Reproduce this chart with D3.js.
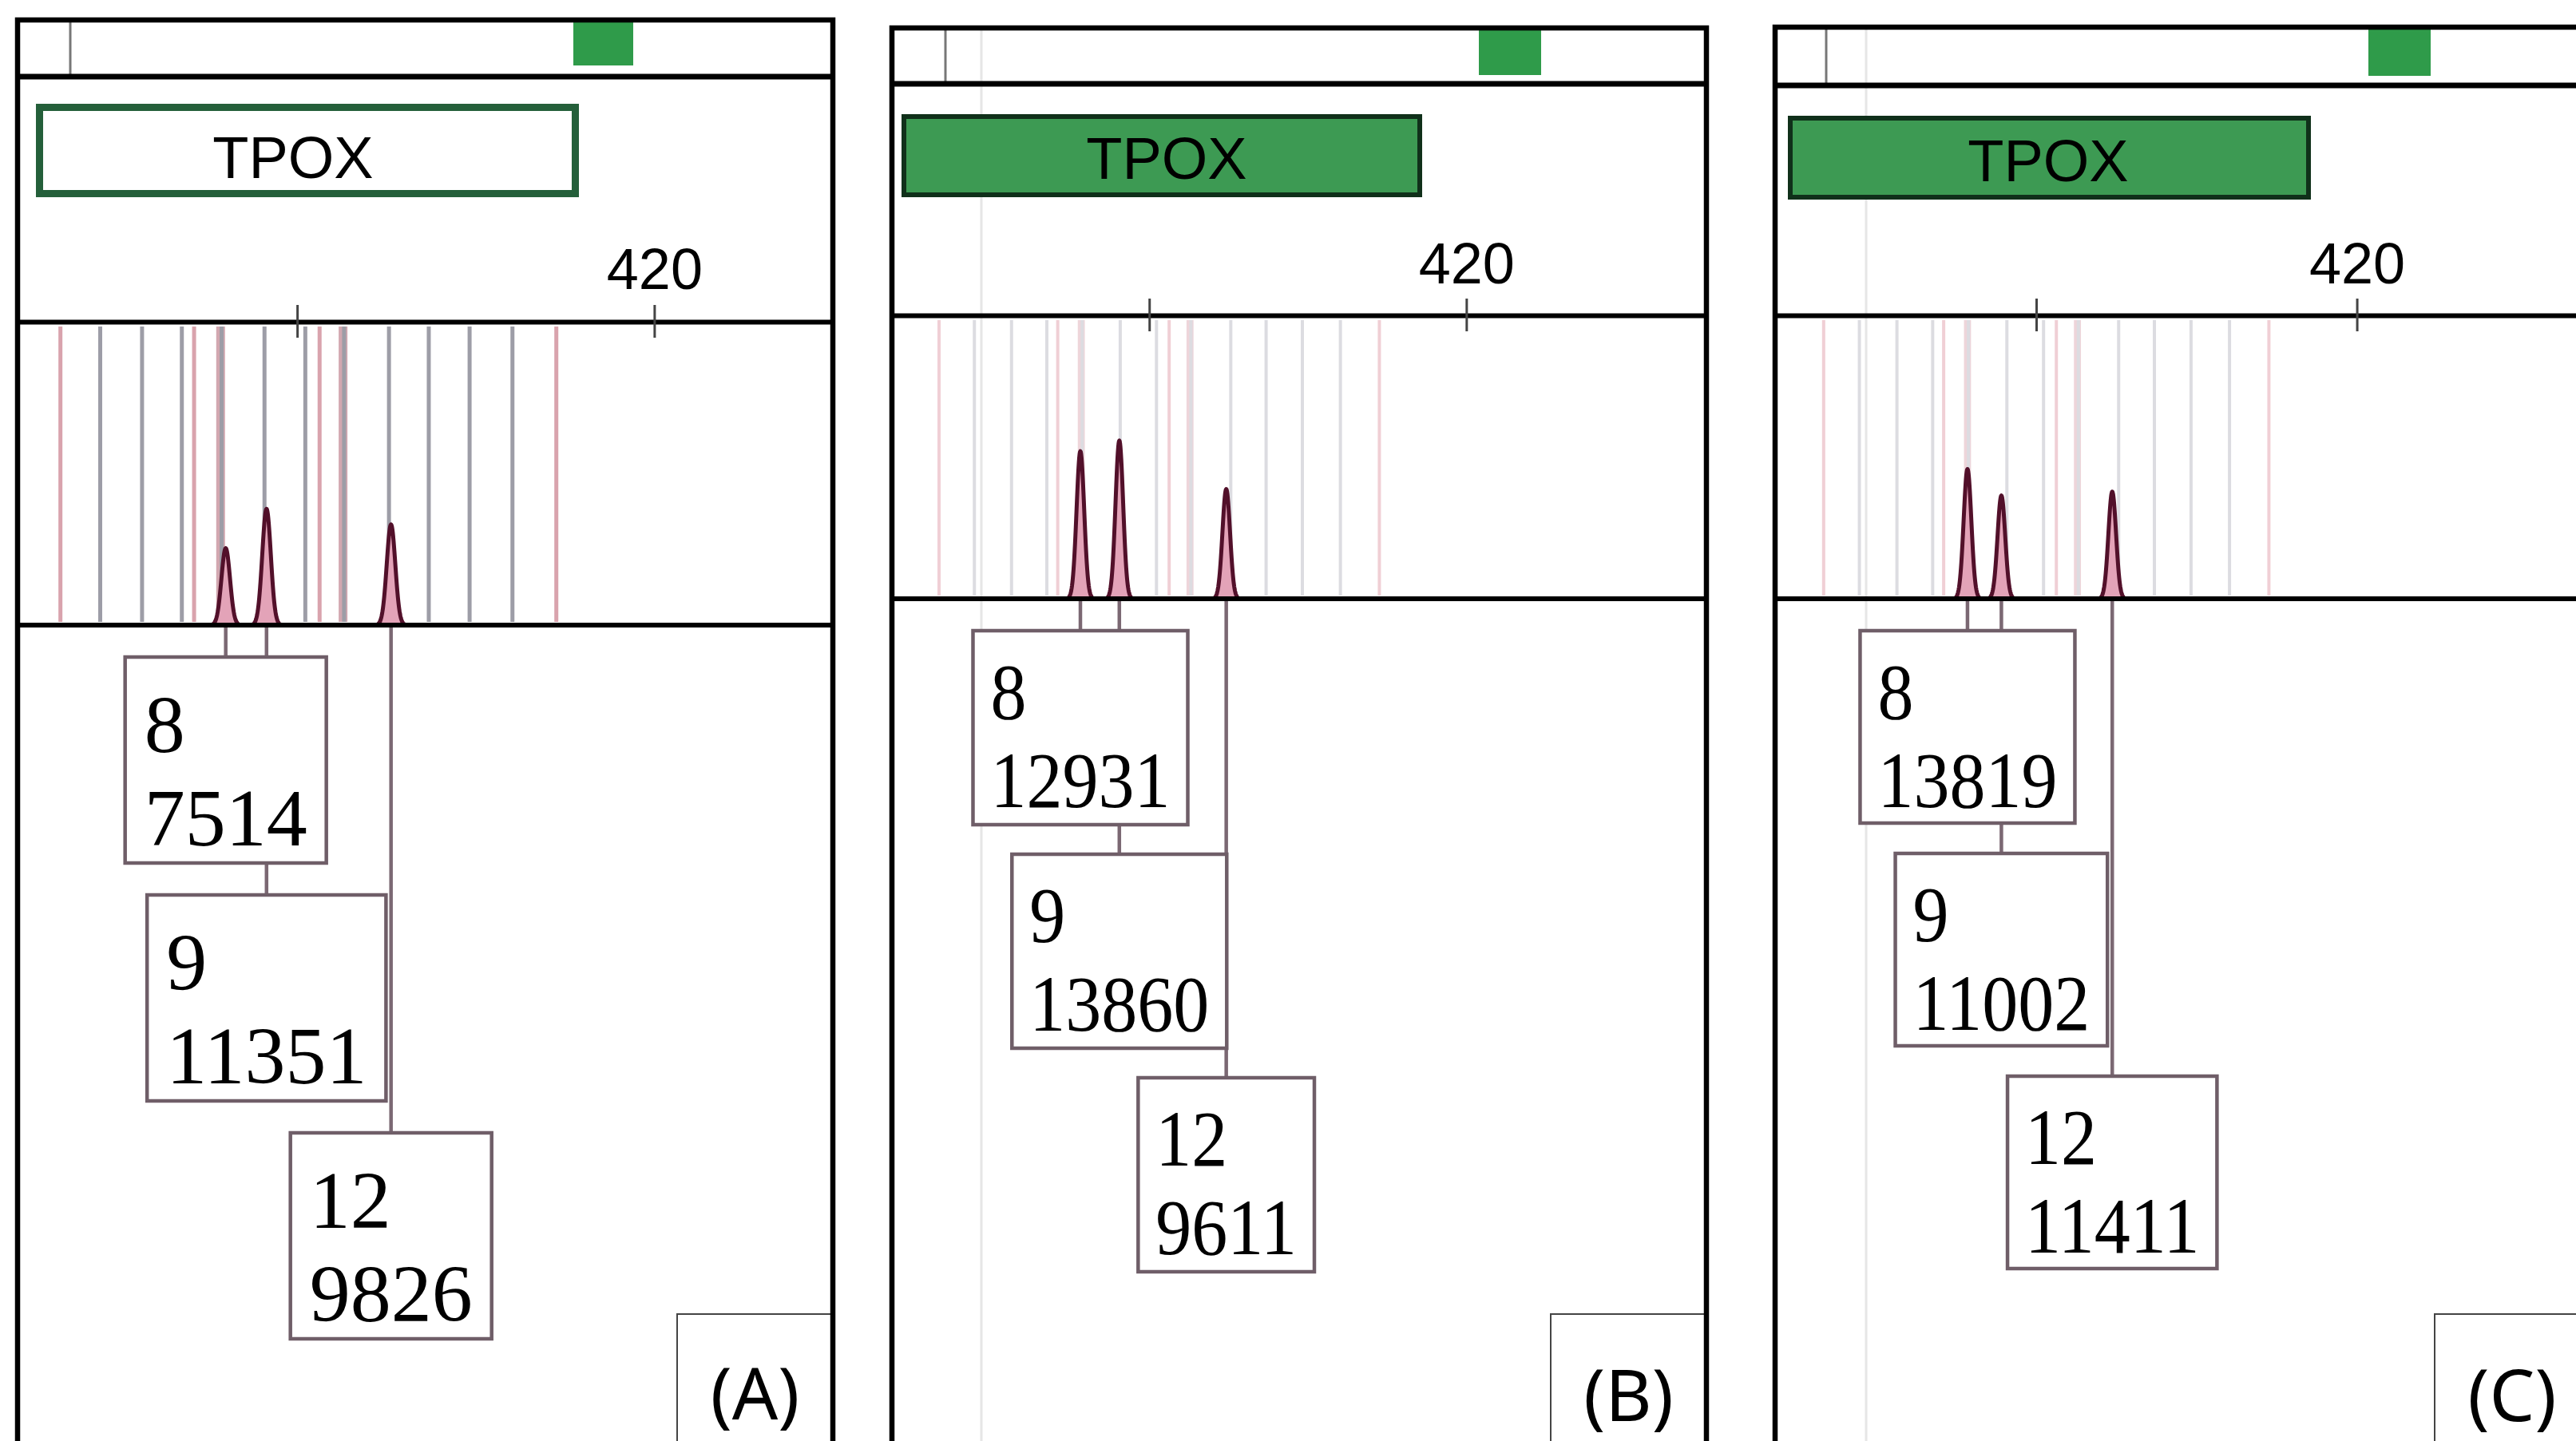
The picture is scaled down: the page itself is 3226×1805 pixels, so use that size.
<!DOCTYPE html>
<html lang="en">
<head>
<meta charset="UTF-8">
<title>TPOX electropherograms</title>
<script src="https://d3js.org/d3.v7.min.js"></script>
<style>
  body { margin: 0; background: #fff; }
  svg { display: block; }
</style>
</head>
<body>
<div id="chart"></div>
<script>
// ---- data ----
const marker = "TPOX";
const panelNames = ["(A)", "(B)", "(C)"];
const alleles = ["8", "9", "12"];
const heightsA = [7514, 11351, 9826];
const heightsB = [12931, 13860, 9611];
const heightsC = [13819, 11002, 11411];
const sizesA = [378.0, 382.0, 394.2];
const sizesB = [377.4, 381.7, 393.5];
const sizesC = [377.5, 381.2, 393.3];
const sizeTicks = [385, 420];
const sizeTickLabels = ["", "420"];
const ladderBins = [365.7, 369.8, 373.7, 377.6, 381.8, 385.8, 389.6, 394.0, 397.9, 401.9, 406.1];
const virtualBins = [361.8, 374.9, 387.2, 410.4];
const wideBins = [377.5, 389.5];

const W = 3226, H = 1805;

// ---- layout of each scanned panel ----
const layout = [
  { left: 22, width: 1021, top: 25, stripY: 96, stripTick: 66, green: [696, 771], greenY: [28, 82],
    tpox: [23, 703, 130, 247], tpoxFill: "#ffffff", tpoxStroke: "#245f3a", tpoxSW: 9,
    tpoxTextX: 345, tpoxTextY: 223, axisY: 403, labelY: 362, baseY: 783,
    domain: [357.6, 437.5], yMax: 29620,
    boxTop: 823, boxH: 258, boxGap: 40, font: 102, squeeze: 1, pad: 24, line1: 119, line2: 236,
    gray: "#9d9da7", pink: "#d9a3ad", wide: "#d2a7b0", binW: 5, faintX: null,
    tagX: 826, tagTop: 1646, tagY: 1778 },
  { left: 1117, width: 1020, top: 35, stripY: 105, stripTick: 67, green: [735, 813], greenY: [38, 94],
    tpox: [12, 664, 143, 247], tpoxFill: "#3d9a53", tpoxStroke: "#10301a", tpoxSW: 6,
    tpoxTextX: 344, tpoxTextY: 224, axisY: 395, labelY: 355, baseY: 750,
    domain: [356.6, 446.5], yMax: 24830,
    boxTop: 790, boxH: 243, boxGap: 37, font: 100, squeeze: 0.9, pad: 22, line1: 110, line2: 221,
    gray: "#dcdce1", pink: "#f0cfd5", wide: "#eed5da", binW: 4, faintX: 112,
    tagX: 825, tagTop: 1646, tagY: 1780 },
  { left: 2223, width: 1020, top: 34, stripY: 107, stripTick: 64, green: [743, 821], greenY: [35, 95],
    tpox: [16, 671, 145, 250], tpoxFill: "#3d9a53", tpoxStroke: "#10301a", tpoxSW: 6,
    tpoxTextX: 342, tpoxTextY: 227, axisY: 395, labelY: 355, baseY: 750,
    domain: [356.5, 445.4], yMax: 30190,
    boxTop: 790, boxH: 241, boxGap: 38, font: 100, squeeze: 0.9, pad: 22, line1: 110, line2: 221,
    gray: "#dcdce1", pink: "#f0cfd5", wide: "#eed5da", binW: 4, faintX: 114,
    tagX: 826, tagTop: 1646, tagY: 1780 }
];

const svg = d3.select("#chart").append("svg").attr("width", W).attr("height", H)
  .style("background", "#fff");

const sans = "'Liberation Sans', Arial, sans-serif";
const serif = "'Liberation Serif', 'Times New Roman', serif";

function drawPanel(L, name, sizes, heights) {
  const right = L.left + L.width;
  const g = svg.append("g");
  const x = d3.scaleLinear().domain(L.domain).range([L.left, right]);
  const y = d3.scaleLinear().domain([0, L.yMax]).range([L.baseY, L.axisY]);

  // faint scanner line running the whole height
  if (L.faintX) {
    g.append("line").attr("x1", L.left + L.faintX).attr("x2", L.left + L.faintX)
      .attr("y1", L.top).attr("y2", H).attr("stroke", "#e6e6e6").attr("stroke-width", 3);
  }

  // overview strip
  g.append("line").attr("x1", L.left + L.stripTick).attr("x2", L.left + L.stripTick)
    .attr("y1", L.top).attr("y2", L.stripY).attr("stroke", "#777").attr("stroke-width", 3);
  g.append("rect").attr("x", L.left + L.green[0]).attr("y", L.greenY[0])
    .attr("width", L.green[1] - L.green[0]).attr("height", L.greenY[1] - L.greenY[0])
    .attr("fill", "#2f9b4a");
  g.append("line").attr("x1", L.left).attr("x2", right).attr("y1", L.stripY).attr("y2", L.stripY)
    .attr("stroke", "#000").attr("stroke-width", 7);

  // marker label box
  const sw = L.tpoxSW;
  g.append("rect").attr("x", L.left + L.tpox[0] + sw / 2).attr("y", L.tpox[2] + sw / 2)
    .attr("width", L.tpox[1] - L.tpox[0] - sw).attr("height", L.tpox[3] - L.tpox[2] - sw)
    .attr("fill", L.tpoxFill).attr("stroke", L.tpoxStroke).attr("stroke-width", sw);
  g.append("text").attr("x", L.left + L.tpoxTextX).attr("y", L.tpoxTextY)
    .attr("text-anchor", "middle").attr("font-family", sans).attr("font-size", 74)
    .attr("fill", "#000").text(marker);

  // bins
  const binY0 = L.axisY + 6, binY1 = L.baseY - 4;
  g.selectAll(".wide").data(wideBins).join("line").attr("class", "wide")
    .attr("x1", d => x(d)).attr("x2", d => x(d)).attr("y1", binY0).attr("y2", binY1)
    .attr("stroke", L.wide).attr("stroke-width", L.binW * 2.2);
  g.selectAll(".vbin").data(virtualBins).join("line").attr("class", "vbin")
    .attr("x1", d => x(d)).attr("x2", d => x(d)).attr("y1", binY0).attr("y2", binY1)
    .attr("stroke", L.pink).attr("stroke-width", L.binW);
  g.selectAll(".lbin").data(ladderBins).join("line").attr("class", "lbin")
    .attr("x1", d => x(d)).attr("x2", d => x(d)).attr("y1", binY0).attr("y2", binY1)
    .attr("stroke", L.gray).attr("stroke-width", L.binW);

  // size axis
  const axis = d3.axisTop(x).tickValues(sizeTicks).tickFormat((d, k) => sizeTickLabels[k])
    .tickSize(21).tickSizeOuter(0).tickPadding(L.axisY - L.labelY - 21);
  const ax = g.append("g").attr("transform", `translate(0,${L.axisY})`).call(axis);
  ax.select(".domain").attr("stroke", "#000").attr("stroke-width", 6);
  ax.selectAll(".tick line").attr("y1", 20).attr("y2", -21).attr("stroke", "#444").attr("stroke-width", 3);
  ax.selectAll(".tick text").attr("font-family", sans).attr("font-size", 72).attr("fill", "#000");

  // peaks
  const peaks = alleles.map((a, k) => ({ allele: a, size: sizes[k], height: heights[k] }));
  const sigma = 0.42;
  const shape = p => d3.range(-4, 4.01, 0.1).map(t => ({ s: p.size + t * sigma, v: p.height * Math.exp(-t * t / 2) }));
  const area = d3.area().x(d => x(d.s)).y0(L.baseY).y1(d => y(d.v));
  const line = d3.line().x(d => x(d.s)).y(d => y(d.v));
  g.selectAll(".pfill").data(peaks).join("path").attr("d", p => area(shape(p)))
    .attr("fill", "#e3a3b8");
  g.selectAll(".pline").data(peaks).join("path").attr("d", p => line(shape(p)))
    .attr("fill", "none").attr("stroke", "#52102a").attr("stroke-width", 5).attr("stroke-linejoin", "round");

  // baseline
  g.append("line").attr("x1", L.left).attr("x2", right).attr("y1", L.baseY).attr("y2", L.baseY)
    .attr("stroke", "#000").attr("stroke-width", 6);

  // connectors and allele call boxes
  const boxY = k => L.boxTop + k * (L.boxH + L.boxGap);
  g.selectAll(".conn").data(peaks).join("line")
    .attr("x1", p => x(p.size)).attr("x2", p => x(p.size))
    .attr("y1", L.baseY + 3).attr("y2", (p, k) => boxY(k))
    .attr("stroke", "#7b6873").attr("stroke-width", 4.5);

  peaks.forEach((p, k) => {
    const bx = x(p.size), by = boxY(k);
    const bg = g.append("g");
    const r = bg.append("rect").attr("y", by).attr("height", L.boxH)
      .attr("fill", "#fff").attr("stroke", "#6f5e68").attr("stroke-width", 4.5);
    const t1 = bg.append("text").attr("data-dy", L.line1).text(p.allele);
    const t2 = bg.append("text").attr("data-dy", L.line2).text(String(p.height));
    bg.selectAll("text").attr("font-family", serif).attr("font-size", L.font).attr("fill", "#000");
    const tw = L.squeeze * Math.max(t1.node().getComputedTextLength(), t2.node().getComputedTextLength());
    const bw = tw + 2 * L.pad;
    r.attr("x", bx - bw / 2).attr("width", bw);
    bg.selectAll("text").attr("transform", function () {
      return `translate(${bx - bw / 2 + L.pad},${by + +this.getAttribute("data-dy")}) scale(${L.squeeze},1)`;
    });
  });

  // panel tag
  g.append("rect").attr("x", L.left + L.tagX).attr("y", L.tagTop)
    .attr("width", right - L.left - L.tagX).attr("height", H - L.tagTop + 20)
    .attr("fill", "#fff").attr("stroke", "#444").attr("stroke-width", 2);
  g.append("text").attr("x", L.left + L.tagX + (right - L.left - L.tagX) / 2).attr("y", L.tagY)
    .attr("text-anchor", "middle").attr("font-family", "'Noto Sans', sans-serif")
    .attr("font-size", 90).attr("fill", "#000").text(name);

  // panel frame
  g.append("rect").attr("x", L.left).attr("y", L.top).attr("width", L.width).attr("height", H)
    .attr("fill", "none").attr("stroke", "#000").attr("stroke-width", 6.5);
}

drawPanel(layout[0], panelNames[0], sizesA, heightsA);
drawPanel(layout[1], panelNames[1], sizesB, heightsB);
drawPanel(layout[2], panelNames[2], sizesC, heightsC);
</script>
</body>
</html>
